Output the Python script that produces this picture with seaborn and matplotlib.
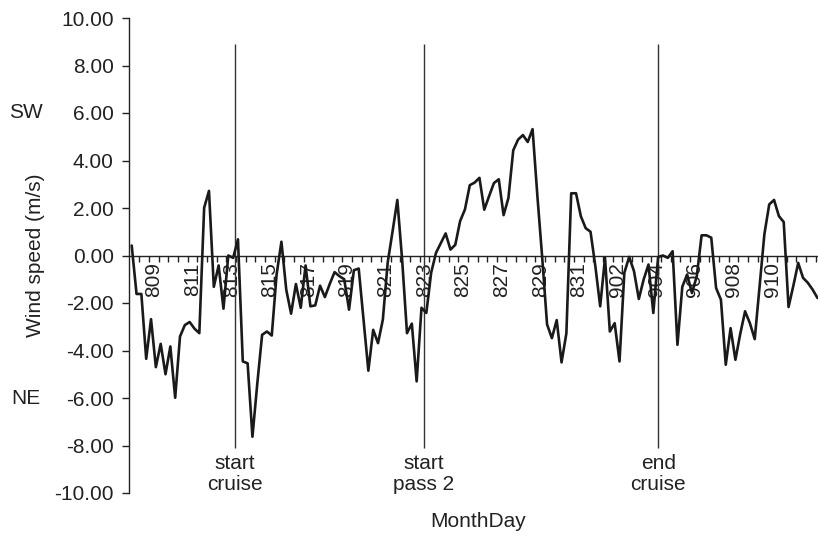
import numpy as np
import pandas as pd
import matplotlib
matplotlib.use("Agg")
import matplotlib.pyplot as plt
import seaborn as sns

# 6-hourly wind speed (m/s), positive = SW, negative = NE
wind_speed = [
    0.42, -1.62, -1.62, -4.35, -2.68, -4.70, -3.72, -5.00, -3.83, -5.99,
    -3.41, -2.93, -2.80, -3.08, -3.27, 2.01, 2.72, -1.32, -0.42, -2.24,
    0.00, -0.10, 0.68, -4.46, -4.54, -7.63, -5.40, -3.34, -3.20, -3.37,
    -0.80, 0.58, -1.44, -2.45, -1.20, -2.20, -0.42, -2.14, -2.10, -1.27,
    -1.75, -1.20, -0.70, -0.87, -1.00, -2.28, -0.62, -0.55, -2.70, -4.85,
    -3.13, -3.69, -2.70, -0.30, 1.00, 2.34, -0.20, -3.27, -2.87, -5.30,
    -2.20, -2.42, -0.73, 0.11, 0.52, 0.93, 0.25, 0.45, 1.45, 1.94,
    2.96, 3.07, 3.27, 1.93, 2.50, 3.05, 3.21, 1.70, 2.42, 4.43,
    4.88, 5.07, 4.78, 5.32, 2.50, -0.10, -2.90, -3.48, -2.72, -4.50,
    -3.28, 2.62, 2.62, 1.65, 1.15, 1.00, -0.45, -2.14, -0.10, -3.20,
    -2.85, -4.46, -0.73, -0.06, -0.66, -1.83, -1.01, -0.38, -2.42, -0.06,
    0.00, -0.10, 0.18, -3.76, -1.32, -0.80, -1.58, -0.87, 0.85, 0.85,
    0.75, -1.37, -1.86, -4.60, -3.06, -4.39, -3.30, -2.35, -2.85, -3.52,
    -1.30, 0.90, 2.15, 2.34, 1.66, 1.41, -2.17, -1.27, -0.31, -0.94,
    -1.15, -1.44, -1.79,
]
date_labels = ['809', '811', '813', '815', '817', '819', '821', '823', '825',
               '827', '829', '831', '902', '904', '906', '908', '910']
event_labels = ['start\ncruise', 'start\npass 2', 'end\ncruise']
event_sample = [21.4, 60.5, 109.0]

sns.set_style("ticks")
plt.rcParams['font.family'] = ['Liberation Sans', 'DejaVu Sans']
plt.rcParams['axes.unicode_minus'] = False

FS = 15
TXT = '#222222'

fig = plt.figure(figsize=(8.18, 5.36), dpi=100)
ax = fig.add_axes([129 / 818, 1 - 493 / 536, (818 - 129) / 818, (493 - 18) / 536])

df = pd.DataFrame({'sample': np.arange(len(wind_speed)), 'speed': wind_speed})
sns.lineplot(data=df, x='sample', y='speed', ax=ax, color='#1a1a1a',
             linewidth=1.9, zorder=3)

ax.set_xlim(-0.56, 142.1)
ax.set_ylim(-10, 10)

# spines
for s in ['top', 'right']:
    ax.spines[s].set_visible(False)
ax.spines['bottom'].set_position(('data', 0))
for s in ['left', 'bottom']:
    ax.spines[s].set_color('#222222')
    ax.spines[s].set_linewidth(1.0)

# y axis
ax.set_yticks(np.arange(-10, 10.01, 2))
ax.yaxis.set_major_formatter(matplotlib.ticker.FormatStrFormatter('%.2f'))
ax.tick_params(axis='y', direction='out', length=5, width=1, color='#222222',
               labelsize=FS, labelcolor=TXT, pad=6)

# x axis: labels every 8 samples, tick marks every 2 samples
label_pos = 4.6 + 8 * np.arange(len(date_labels))
ax.set_xticks(label_pos)
ax.set_xticklabels(date_labels, rotation=90, va='top', ha='center')
ax.set_xticks(1.6 + 2 * np.arange(71), minor=True)
ax.tick_params(axis='x', which='major', length=0, labelsize=FS,
               labelcolor=TXT, pad=5)
ax.tick_params(axis='x', which='minor', direction='out', length=4, width=1,
               color='#222222')

ax.set_ylabel('Wind speed (m/s)', fontsize=FS, color=TXT)
ax.yaxis.set_label_coords(-0.122, 0.5)
ax.set_xlabel('MonthDay', fontsize=FS, color=TXT)
ax.xaxis.set_label_coords(0.5065, -0.04)

tr = ax.get_yaxis_transform()
ax.text(-0.1495, 6, 'SW', transform=tr, ha='center', va='center',
        fontsize=FS, color=TXT)
ax.text(-0.1495, -6, 'NE', transform=tr, ha='center', va='center',
        fontsize=FS, color=TXT)

# event markers
ax.vlines(event_sample, -8.1, 8.9, color='#333333', linewidth=1.0, zorder=2)
for xpos, lab in zip(event_sample, event_labels):
    ax.text(xpos, -9.2, lab, ha='center', va='center', fontsize=FS,
            color=TXT, linespacing=1.15)

fig.savefig('out.png', dpi=100)
